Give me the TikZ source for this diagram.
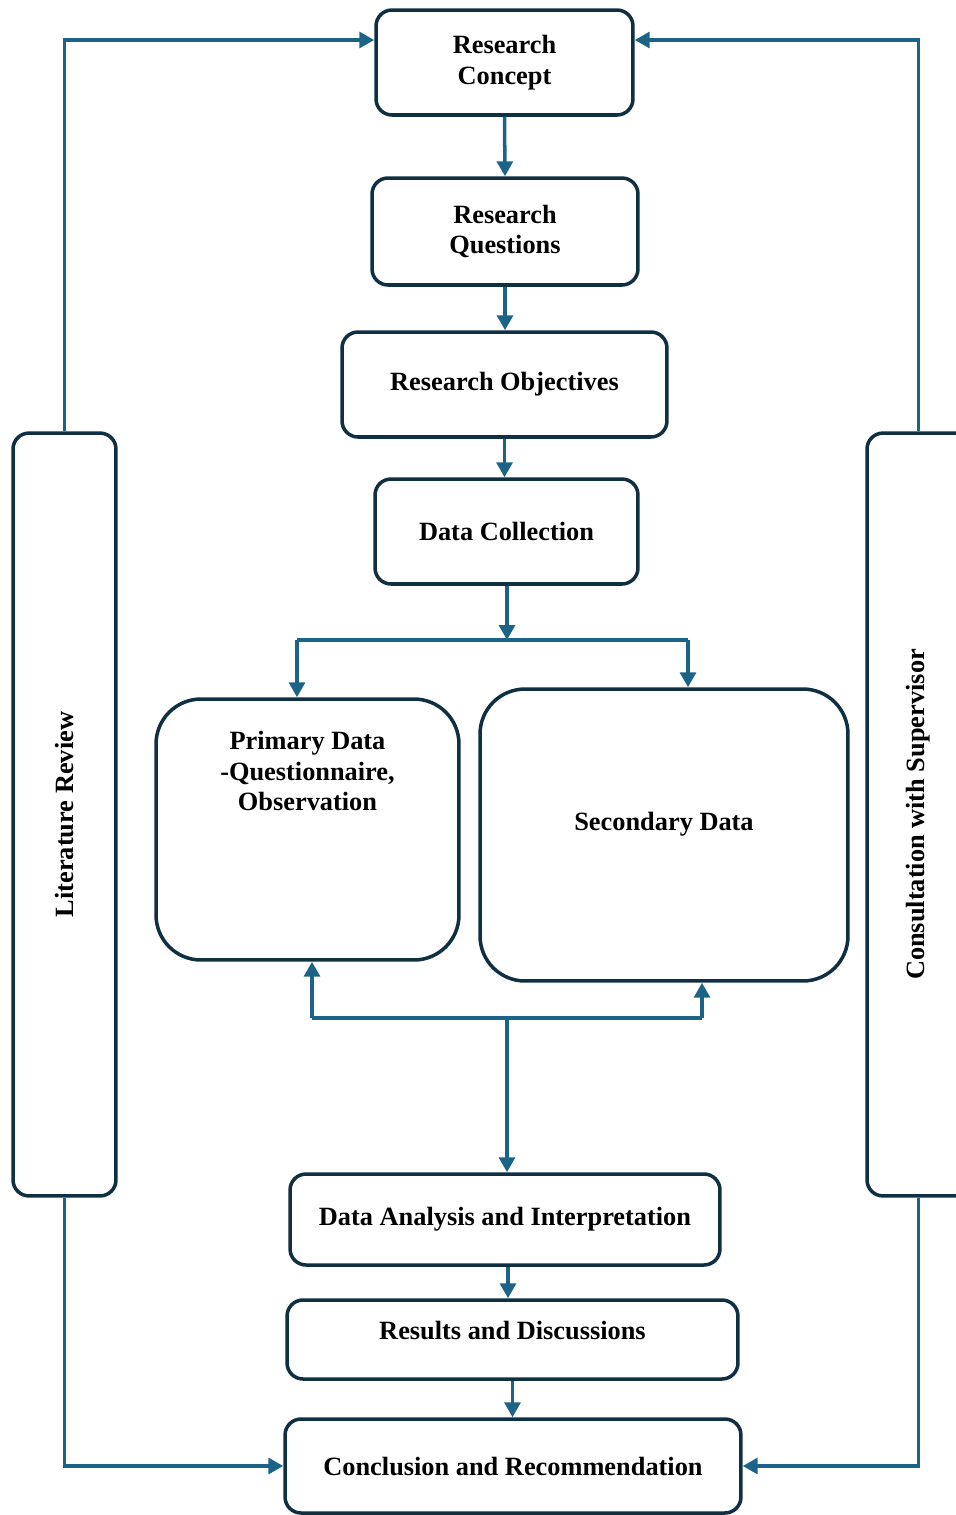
\documentclass[tikz,border=0pt]{standalone}
\usepackage{fontspec}
\setmainfont{Liberation Serif}
\usetikzlibrary{arrows.meta}
\usetikzlibrary{positioning}
\definecolor{boxline}{HTML}{0F2F42}
\definecolor{flowline}{HTML}{1B6487}
\tikzset{
	stage/.style={draw=boxline,line width=2pt,rounded corners=0.32cm,fill=white,inner sep=0pt,
		align=center,font=\bfseries\fontsize{15}{17.6}\selectfont},
	datablock/.style={stage,rounded corners=0.9cm},
	sidebar/.style={stage,minimum width=2.06cm,minimum height=15.26cm},
	txt/.style={align=center,inner sep=0pt,font=\bfseries\fontsize{15}{17.6}\selectfont},
	flow/.style={draw=flowline,line width=2pt},
	flowarr/.style={flow,-{Triangle[length=8.5pt,width=9pt]}},
	}

\begin{document}
\begin{tikzpicture}[x=0.02cm,y=-0.02cm]
 \useasboundingbox (0,0) rectangle (956,1515);

\node (concept) at (504.5,62.5) [stage,minimum width=5.14cm,minimum height=2.1cm] {Research\\Concept};
\node (questions) at (505,231.5) [stage,minimum width=5.32cm,minimum height=2.14cm] {Research\\Questions};
\node (objectives) at (504.5,384.5) [stage,minimum width=6.5cm,minimum height=2.1cm] {Research Objectives};
\node (collection) at (506.5,531.5) [stage,minimum width=5.26cm,minimum height=2.1cm] {Data Collection};
\node (primary) at (307.5,829.5) [datablock,minimum width=6.06cm,minimum height=5.22cm] {};
\node (primarytxt) at (307.5,771) [txt] {Primary Data\\-Questionnaire,\\Observation};
\node (secondary) at (664,835) [datablock,minimum width=7.36cm,minimum height=5.84cm,text depth=0.55cm] {Secondary Data};
\node (analysis) at (505,1219.5) [stage,minimum width=8.6cm,minimum height=1.82cm] {Data Analysis and Interpretation};
\node (results) at (512.5,1339.5) [stage,minimum width=9.02cm,minimum height=1.58cm,text depth=0.38cm] {Results and Discussions};
\node (conclusion) at (513,1466) [stage,minimum width=9.12cm,minimum height=1.88cm] {Conclusion and Recommendation};
\node (litreview) at (64.5,814.5) [sidebar] {\rotatebox{90}{Literature Review}};
\node (consult) at (918.5,814.5) [sidebar] {\rotatebox{90}{Consultation with Supervisor}};

 % main chain
 \draw[flowarr] (concept.south) -- (questions.north);
 \draw[flowarr] (questions.south) -- (questions.south |- objectives.north);
 \draw[flowarr] (objectives.south) -- (objectives.south |- collection.north);

 % split into primary and secondary
 \coordinate (split) at (507,640);
 \coordinate (splitL) at (297,640);
 \coordinate (splitR) at (688,640);
 \draw[flowarr] (collection.south -| split) -- (split);
 \draw[flow] (splitL) -- (splitR);
 \draw[flowarr] (splitL) -- (splitL |- primary.north);
 \draw[flowarr] (splitR) -- (splitR |- secondary.north);

 % join towards analysis
 \coordinate (join) at (507,1018);
 \coordinate (joinL) at (312,1018);
 \coordinate (joinR) at (702,1018);
 \draw[flow] (joinL) -- (joinR);
 \draw[flowarr] (joinL) -- (joinL |- primary.south);
 \draw[flowarr] (joinR) -- (joinR |- secondary.south);
 \draw[flowarr] (join) -- (join |- analysis.north);

 \draw[flowarr] ([xshift=0.06cm]analysis.south) -- ([xshift=0.06cm]analysis.south |- results.north);
 \draw[flowarr] (results.south) -- (results.south |- conclusion.north);

 % side loops
 \draw[flowarr] (litreview.north) |- ([yshift=0.45cm]concept.west);
 \draw[flowarr] (consult.north) |- ([yshift=0.45cm]concept.east);
 \draw[flowarr] (litreview.south) |- (conclusion.west);
 \draw[flowarr] (consult.south) |- (conclusion.east);
\end{tikzpicture}
\end{document}
